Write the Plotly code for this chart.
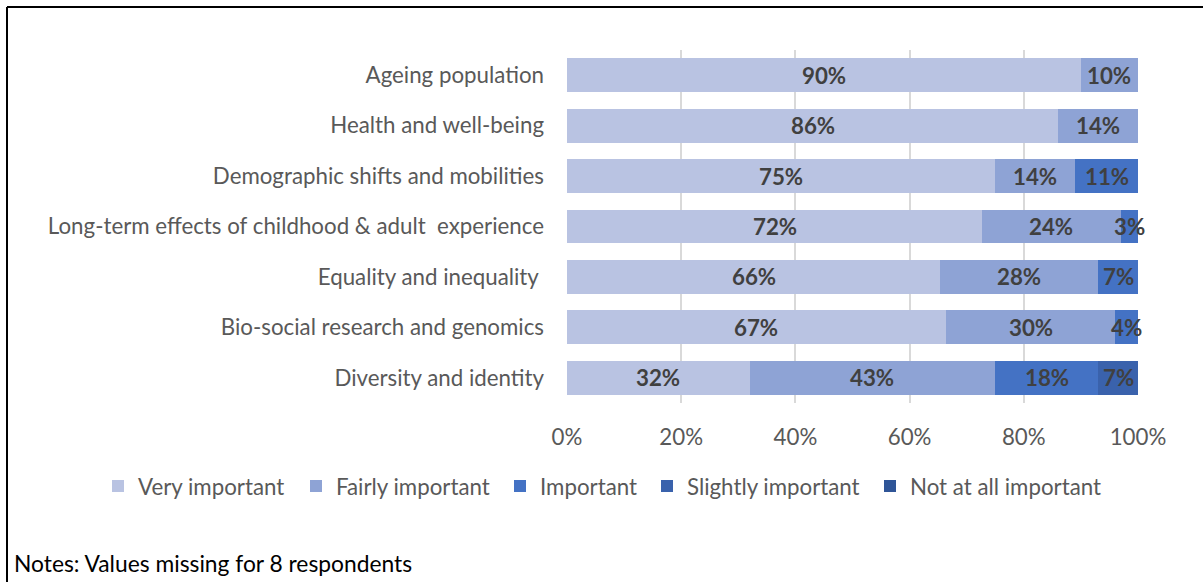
import plotly.graph_objects as go

categories = [
    "Ageing population",
    "Health and well-being",
    "Demographic shifts and mobilities",
    "Long-term effects of childhood & adult  experience",
    "Equality and inequality ",
    "Bio-social research and genomics",
    "Diversity and identity",
]
series_names = ["Very important", "Fairly important", "Important",
                "Slightly important", "Not at all important"]
very_important = [90, 86, 75, 72, 66, 67, 32]
fairly_important = [10, 14, 14, 24, 28, 30, 43]
important = [0, 0, 11, 3, 7, 4, 18]
slightly_important = [0, 0, 0, 0, 0, 0, 7]
not_at_all_important = [0, 0, 0, 0, 0, 0, 0]
series_values = [very_important, fairly_important, important,
                 slightly_important, not_at_all_important]
x_ticks = [0, 20, 40, 60, 80, 100]
x_tick_labels = ["0%", "20%", "40%", "60%", "80%", "100%"]
note = "Notes: Values missing for 8 respondents"

colors = ["#B9C3E2", "#8EA3D5", "#4472C4", "#3A62AC", "#2F5597"]

FONT = "Lato"
FS = 22.3
W, H = 1203, 582
L, R, T, B = 567, 1138, 50, 403  # plot area in pixels


def px_x(p):
    return (p - L) / (R - L)


def px_y(p):
    return (B - p) / (B - T)


legend_item_starts = [98, 296, 500, 647, 870]
legend_y = 486

fig = go.Figure()
totals = [sum(s[j] for s in series_values) for j in range(len(categories))]
cum = [0.0] * len(categories)
for i, (name, vals) in enumerate(zip(series_names, series_values)):
    xs = [v / t * 100 if t else 0 for v, t in zip(vals, totals)]
    lg = "legend" if i == 0 else f"legend{i+1}"
    fig.add_trace(go.Bar(
        y=categories, x=xs, name=name, orientation="h",
        marker=dict(color=colors[i], line=dict(width=0)),
        hoverinfo="skip", legend=lg, showlegend=True,
    ))
    for j, (v, w) in enumerate(zip(vals, xs)):
        if v:
            fig.add_annotation(
                x=cum[j] + w / 2, y=categories[j], xref="x", yref="y",
                text=f"<b>{v}%</b>", showarrow=False,
                xanchor="center", yanchor="middle",
                font=dict(family=FONT, size=FS, color="#404040"),
            )
        cum[j] += w

layout_legends = {}
for i, xs in enumerate(legend_item_starts):
    key = "legend" if i == 0 else f"legend{i+1}"
    layout_legends[key] = dict(
        x=px_x(xs), xanchor="left", y=px_y(legend_y), yanchor="middle",
        orientation="h", bgcolor="rgba(0,0,0,0)", borderwidth=0,
        font=dict(family=FONT, size=FS, color="#595959"),
        itemclick=False, itemdoubleclick=False, visible=True,
    )

fig.update_layout(
    width=W, height=H, showlegend=True,
    margin=dict(l=L, r=W - R, t=T, b=H - B, pad=0),
    barmode="stack", bargap=0.33,
    plot_bgcolor="white", paper_bgcolor="white",
    font=dict(family=FONT, size=FS, color="#595959"),
    xaxis=dict(range=[0, 100], tickvals=x_ticks, ticktext=x_tick_labels,
               showgrid=True, gridcolor="#D9D9D9", gridwidth=2,
               zeroline=False, showline=False, ticks="",
               ticklabelstandoff=19, fixedrange=True),
    yaxis=dict(categoryorder="array", categoryarray=categories,
               autorange="reversed", showgrid=False, ticks="",
               ticklabelstandoff=22, fixedrange=True),
    **layout_legends,
)

# outer frame lines (top and left)
fig.add_shape(type="line", xref="paper", yref="paper",
              x0=px_x(7), x1=px_x(W + 5), y0=px_y(7), y1=px_y(7),
              line=dict(color="black", width=2))
fig.add_shape(type="line", xref="paper", yref="paper",
              x0=px_x(7), x1=px_x(7), y0=px_y(7), y1=px_y(H + 5),
              line=dict(color="black", width=2))

fig.add_annotation(text=note, xref="paper", yref="paper",
                   x=px_x(12), y=px_y(563), xanchor="left", yanchor="middle",
                   showarrow=False,
                   font=dict(family=FONT, size=22.8, color="#000000"))

fig.write_html("out.html", config={"displayModeBar": False})
